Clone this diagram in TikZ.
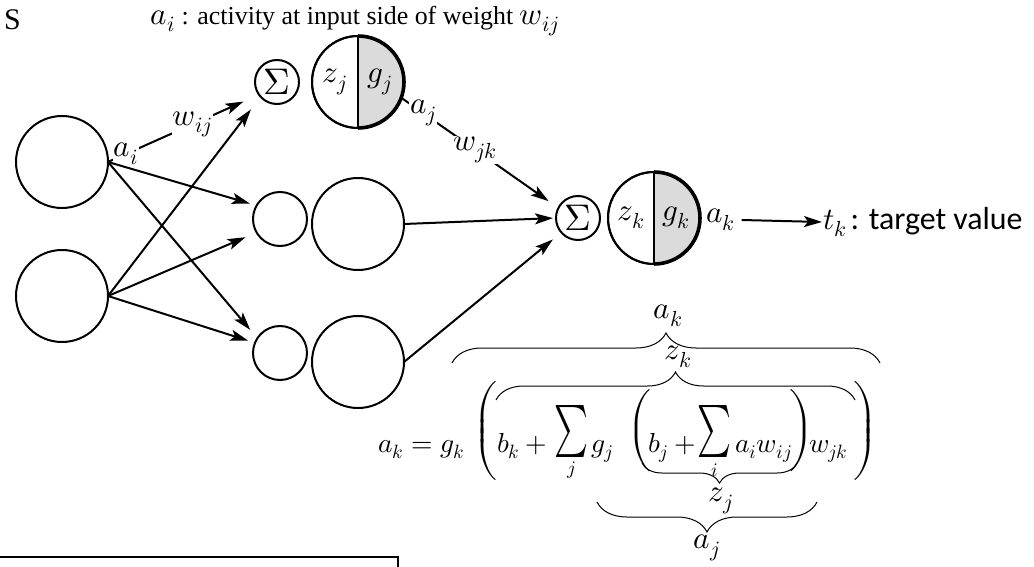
\documentclass[tikz,border=0pt]{standalone}
\usepackage{graphicx}
\usepackage{fontspec}
\usepackage{unicode-math}
\setmainfont{Liberation Serif}
\setmathfont{Latin Modern Math}[Scale=1.2]
\newfontfamily\calib{Carlito}
\usetikzlibrary{arrows.meta,decorations.pathreplacing,calc}
\begin{document}
\begin{tikzpicture}[x=1bp,y=-1bp,
  every node/.style={inner sep=0pt,outer sep=0pt},
  neu/.style={circle,draw,line width=2bp,minimum size=92bp},
  sig/.style={circle,draw,line width=2bp,minimum size=44bp,font=\fontsize{31}{34}\selectfont},
  sml/.style={circle,draw,line width=2bp,minimum size=54bp},
  arr/.style={line width=2bp,-{Stealth[length=18bp,width=11bp,inset=4bp]}},
  lbl/.style={font=\fontsize{26}{30}\selectfont,inner sep=1bp},
  onl/.style={lbl,fill=white},
  eqf/.style={font=\fontsize{23}{27}\selectfont},
  eq/.style={eqf,anchor=base west},
  lim/.style={font=\fontsize{16}{19}\selectfont},
  brc/.style={decorate,decoration={brace,amplitude=#1},line width=1bp},
  brc/.default=24bp
]
\useasboundingbox (0,0) rectangle (1034,567);
\clip (0,0) rectangle (1034,567);

% header texts
\node[font=\fontsize{30}{34}\selectfont,anchor=west] (s) at (4,20) {S};
\node[lbl] (top) at (355,21) {$a_i$ : activity at input side of weight $w_{ij}$};

% input layer
\node[neu] (in1) at (62,162) {};
\node[neu] (in2) at (62,296) {};

% hidden layer
\node[sig] (sj) at (277,82) {$\Sigma$};
\node[neu] (hj) at (358,82) {};
\node[sml] (s2) at (280,219) {};
\node[neu] (h2) at (358,224) {};
\node[sml] (s3) at (280,353) {};
\node[neu] (h3) at (358,362) {};

% output
\node[sig] (sk) at (578,218) {$\Sigma$};
\node[neu] (hk) at (654,218) {};

% half shading of the activation units
\foreach \n/\z/\g in {hj/z_j/g_j,hk/z_k/g_k}{
  \begin{scope}
    \clip (\n.center) circle[radius=46bp];
    \fill[gray!28] ($(\n.center)+(0,-50)$) rectangle ($(\n.center)+(50,50)$);
  \end{scope}
  \draw[line width=2bp] (\n.center) circle[radius=46bp];
  \draw[line width=3.6bp] (\n.north) arc[start angle=90,end angle=-90,radius=46bp];
  \draw[line width=2bp] (\n.north) -- (\n.south);
  \node[lbl] at ($(\n.center)+(-23,0)$) {$\z$};
  \node[lbl] at ($(\n.center)+(22,0)$) {$\g$};
}

% connections input -> hidden
\draw[arr,shorten >=17bp] (in1.east) -- node[onl,pos=0.12]{$a_i$} node[onl,pos=0.56]{$w_{ij}$} (sj.215);
\draw[arr,shorten >=16bp] (in2.east) -- (sj.222);
\draw[arr,shorten >=7bp] (in1.east) -- (s2.150);
\draw[arr,shorten >=12bp] (in2.east) -- (s2.210);
\draw[arr,shorten >=11bp] (in1.east) -- (s3.147);
\draw[arr,shorten >=7bp] (in2.east) -- (s3.158);

% hidden -> output
\draw[arr,shorten >=12bp] (hj.-20) -- node[onl,pos=0.14]{$a_j$} node[onl,pos=0.47]{$w_{jk}$} (sk.153);
\draw[arr,shorten >=3bp] (h2.east) -- (sk.180);
\draw[arr,shorten >=11bp] (h3.east) -- (sk.221);

% output value and target
\node[lbl,anchor=west] (ak) at (705,220) {$a_k$};
\node[lbl,anchor=west] (tk) at (822,222) {$t_k$\,{\calib\fontsize{32}{36}\selectfont : target value}};
\draw[arr] ([xshift=6bp]ak.east) -- (tk.west);

% equation
\nulldelimiterspace=0pt
\node[eq] (e0) at (378,452) {$a_k = {}$};
\node[eq] (e1) at (440,452) {$g_k$};
\node[eqf] (e2) at (486,431) {$\left(\vcenter{\hbox{\vrule height 104bp width 0pt}}\right.$};
\node[eq] (e3) at (497,452) {$b_k + {}$};
\node[eqf] (e3s) at (571,431) {\resizebox*{34bp}{52bp}{$\textstyle\sum$}};
\node[lim] (e3j) at (572,470) {$j$};
\node[eq] (e4) at (591,452) {$g_j$};
\node[eqf] (e5) at (640,431) {$\left(\vcenter{\hbox{\vrule height 82bp width 0pt}}\right.$};
\node[eq] (e6) at (648,452) {$b_j + {}$};
\node[eqf] (e6s) at (714,431) {\resizebox*{34bp}{52bp}{$\textstyle\sum$}};
\node[lim] (e6i) at (715,470) {$i$};
\node[eq] (e6a) at (735,452) {$a_i w_{ij}$};
\node[eqf] (e7) at (802,431) {$\left.\vcenter{\hbox{\vrule height 82bp width 0pt}}\right)$};
\node[eq] (e8) at (809,452) {$w_{jk}$};
\node[eqf] (e9) at (866,431) {$\left.\vcenter{\hbox{\vrule height 104bp width 0pt}}\right)$};

% braces
\draw[brc=30bp] (452,363) -- (880,363);
\draw[brc=28bp] (496,400) -- (855,400);
\draw[brc=20bp] (797,463) -- (642,463);
\draw[brc=30bp] (817,502) -- (597,502);
\node[lbl] (lak) at (668,316) {$a_k$};
\node[lbl] (lzk) at (678,357) {$z_k$};
\node[lbl] (lzj) at (721,501) {$z_j$};
\node[lbl] (laj) at (707,548) {$a_j$};

% bottom box (cut off)
\draw[line width=1.8bp] (-10,557) rectangle (398,600);
\end{tikzpicture}
\end{document}
